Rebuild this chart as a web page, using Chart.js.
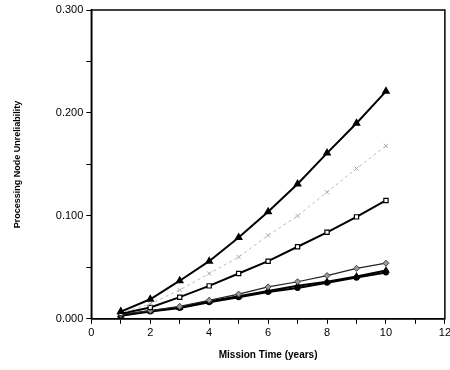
<!DOCTYPE html>
<html>
<head>
<meta charset="utf-8">
<script src="https://cdn.jsdelivr.net/npm/chart.js@4"></script>
<style>
    html, body { margin: 0; padding: 0; background: #fff; overflow: hidden; }
    #wrap { width: 454px; height: 370px; }
</style>
</head>
<body>
<div id="wrap"><canvas id="chart"></canvas></div>
<script>
    const years = [1, 2, 3, 4, 5, 6, 7, 8, 9, 10];
    const triangleSeries = [0.007, 0.019, 0.037, 0.056, 0.079, 0.104, 0.131, 0.161, 0.190, 0.221];
    const dottedSeries = [0.0055, 0.0145, 0.028, 0.044, 0.060, 0.081, 0.100, 0.123, 0.146, 0.168];
    const squareSeries = [0.005, 0.011, 0.021, 0.032, 0.044, 0.056, 0.070, 0.084, 0.099, 0.115];
    const diamondSeries = [0.004, 0.008, 0.012, 0.018, 0.024, 0.031, 0.036, 0.042, 0.049, 0.054];
    const lowTriangleSeries = [0.0035, 0.0075, 0.011, 0.017, 0.022, 0.027, 0.032, 0.036, 0.041, 0.047];
    const circleSeries = [0.003, 0.007, 0.0105, 0.016, 0.021, 0.026, 0.030, 0.035, 0.040, 0.045];

    const toPoints = values => values.map((v, i) => ({ x: years[i], y: v }));

    const frame = {
        id: 'frame',
        afterDraw(chart) {
            const { ctx, chartArea } = chart;
            ctx.save();
            ctx.strokeStyle = '#000';
            ctx.lineWidth = 1.5;
            ctx.strokeRect(chartArea.left, chartArea.top, chartArea.right - chartArea.left, chartArea.bottom - chartArea.top);
            ctx.restore();
        }
    };

    const font = { family: 'Liberation Sans, Arial, sans-serif', size: 11 };

    new Chart(document.getElementById('chart'), {
        type: 'line',
        data: {
            datasets: [
                { data: toPoints(triangleSeries), borderColor: '#000', borderWidth: 2, pointStyle: 'triangle', pointRadius: 3, pointBackgroundColor: '#000', pointBorderColor: '#000' },
                { data: toPoints(dottedSeries), borderColor: '#bbb', borderWidth: 1, borderDash: [3, 3], pointStyle: 'crossRot', pointRadius: 3, pointBorderColor: '#aaa', pointBackgroundColor: '#aaa' },
                { data: toPoints(squareSeries), borderColor: '#000', borderWidth: 2, pointStyle: 'rect', pointRadius: 3, pointBackgroundColor: '#fff', pointBorderColor: '#000', pointBorderWidth: 1.2 },
                { data: toPoints(diamondSeries), borderColor: '#222', borderWidth: 1.2, pointStyle: 'rectRot', pointRadius: 3, pointBackgroundColor: '#999', pointBorderColor: '#444', pointBorderWidth: 1 },
                { data: toPoints(lowTriangleSeries), borderColor: '#000', borderWidth: 2, pointStyle: 'triangle', pointRadius: 2.5, pointBackgroundColor: '#000', pointBorderColor: '#000' },
                { data: toPoints(circleSeries), borderColor: '#000', borderWidth: 2, pointStyle: 'circle', pointRadius: 2, pointBackgroundColor: '#000', pointBorderColor: '#000' }
            ]
        },
        options: {
            responsive: true,
            maintainAspectRatio: false,
            animation: false,
            layout: { padding: { top: 10, left: 8, right: 0, bottom: 5 } },
            plugins: { legend: { display: false }, tooltip: { enabled: false } },
            elements: { line: { tension: 0 } },
            scales: {
                x: {
                    type: 'linear',
                    min: 0,
                    max: 12,
                    grid: { drawOnChartArea: false, color: '#000', tickLength: 5 },
                    border: { color: '#000', width: 1.5 },
                    ticks: {
                        stepSize: 1,
                        color: '#000',
                        font: font,
                        maxRotation: 0,
                        autoSkip: false,
                        callback: v => (v % 2 === 0 ? String(v) : '')
                    },
                    title: { display: true, text: 'Mission Time (years)', color: '#000', font: { family: font.family, size: 10, weight: 'bold' }, padding: { top: 6 } }
                },
                y: {
                    min: 0,
                    max: 0.3,
                    grid: { drawOnChartArea: false, color: '#000', tickLength: 5 },
                    border: { color: '#000', width: 1.5 },
                    ticks: {
                        stepSize: 0.05,
                        color: '#000',
                        font: font,
                        autoSkip: false,
                        callback: v => (Math.round(v * 100) % 10 === 0 ? v.toFixed(3) : '')
                    },
                    title: { display: true, text: 'Processing Node Unreliability', color: '#000', font: { family: font.family, size: 9, weight: 'bold' }, padding: { bottom: 30 } }
                }
            }
        },
        plugins: [frame]
    });
</script>
</body>
</html>
